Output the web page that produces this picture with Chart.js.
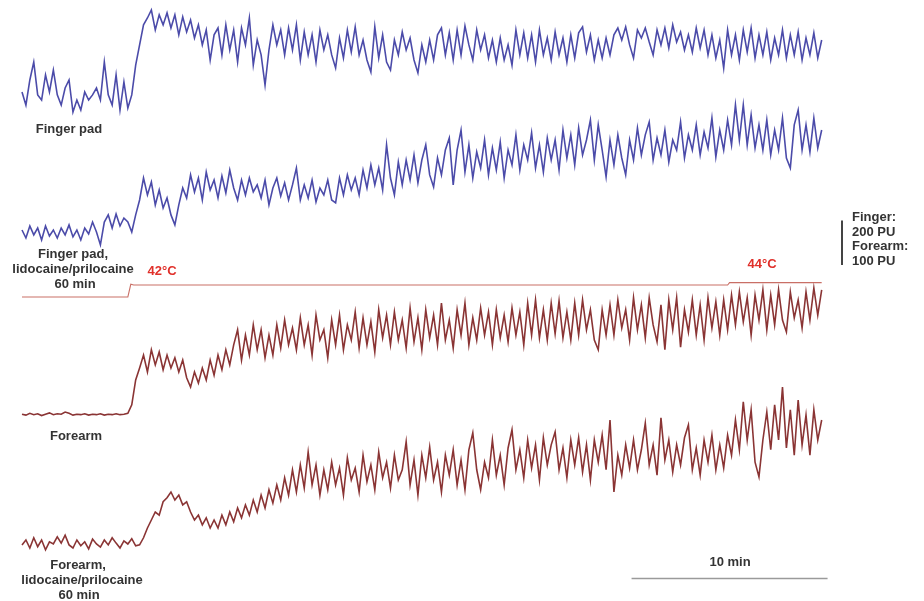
<!DOCTYPE html>
<html>
<head>
<meta charset="utf-8">
<script src="https://cdn.jsdelivr.net/npm/chart.js@4.4.1/dist/chart.umd.min.js"></script>
<style>
  html, body { margin: 0; padding: 0; background: #ffffff; }
  #wrap { position: relative; width: 924px; height: 601px; }
</style>
</head>
<body>
<div id="wrap"><canvas id="c"></canvas></div>
<script>
// ---- Data ----
// Sampling interval of the laser Doppler traces, minutes
const sampleStepMin = 0.2;

// Finger pad (PU)
const fingerPad = [
171,112,225,306,158,135,248,171,270,158,
112,189,225,81,135,90,171,135,158,189,
135,306,158,112,248,90,216,99,158,292,
383,473,504,540,450,518,473,527,459,518,
428,509,441,495,414,473,383,450,315,428,
459,338,473,360,450,306,459,383,504,292,
405,338,202,360,473,383,450,338,459,360,
473,315,441,338,428,306,450,360,428,338,
279,414,324,450,351,464,338,405,315,261,
464,324,428,306,270,405,338,441,360,414,
315,257,383,306,405,315,428,459,338,437,
315,450,338,468,383,315,450,360,428,324,
405,306,414,315,383,292,450,338,437,324,
428,306,450,338,414,315,441,338,414,306,
428,324,437,464,351,428,315,405,324,414,
338,428,459,405,464,383,324,450,414,459,
396,338,450,383,459,369,473,396,441,360,
428,351,459,369,450,338,428,324,405,279,
450,338,428,315,450,351,459,324,428,338,
441,315,414,338,450,324,428,338,441,315,
414,338,437,324,405
];

// Finger pad, lidocaine/prilocaine 60 min (PU)
const fingerPadLido = [
90,54,108,68,99,45,108,63,90,54,
99,68,113,59,90,45,99,72,126,81,
23,126,158,99,162,108,144,126,81,158,
225,324,248,306,203,270,189,234,158,113,
203,279,234,338,261,324,225,351,270,315,
234,333,257,360,279,225,315,248,324,261,
293,234,315,203,279,324,243,302,225,293,
369,225,293,234,315,216,279,248,315,225,
212,324,248,338,270,324,248,360,279,383,
293,369,270,473,324,248,396,293,405,315,
428,302,405,473,338,284,414,338,450,504,
293,450,540,351,473,324,441,369,495,338,
459,360,486,324,450,383,518,360,473,405,
527,369,473,351,504,405,495,360,540,414,
518,383,549,428,495,585,405,563,450,329,
495,383,518,414,338,495,405,549,428,518,
576,405,504,428,540,396,495,450,576,414,
518,450,563,428,531,459,594,419,540,450,
585,473,653,495,653,473,608,459,563,450,
585,428,540,450,594,414,369,563,630,450,
563,441,594,459,540
];

// Forearm (PU)
const forearm = [
13,11,15,12,14,10,13,16,12,14,
13,18,15,11,13,12,14,11,13,12,
14,11,13,12,14,12,13,15,34,90,
117,146,108,158,124,153,113,146,117,140,
108,135,95,74,108,83,117,90,135,101,
146,113,158,124,169,203,135,191,146,214,
158,203,140,191,146,214,162,225,169,207,
158,230,169,214,146,236,180,203,140,225,
169,236,158,214,180,243,162,230,169,221,
153,248,185,236,169,243,180,225,162,252,
176,230,158,248,185,236,169,263,180,225,
162,248,191,263,169,230,180,252,191,243,
169,248,185,236,176,252,191,243,169,263,
191,270,185,248,180,263,194,268,185,243,
180,263,191,270,203,248,180,158,248,191,
259,191,270,207,248,180,275,203,259,185,
275,214,176,259,158,270,203,275,164,248,
198,270,191,259,180,275,207,266,191,270,
203,281,214,288,221,275,191,281,225,293,
203,281,214,293,225,198,288,230,270,207,
288,225,297,236,293
];

// Forearm, lidocaine/prilocaine 60 min (PU)
const forearmLido = [
34,45,27,50,30,45,23,41,36,52,
38,56,34,27,45,32,41,25,47,36,
29,45,34,50,38,27,43,36,48,32,
34,50,72,90,108,101,131,140,153,135,
146,124,131,108,90,101,79,95,72,90,
72,101,79,108,86,117,95,124,101,135,
108,146,117,158,128,169,135,185,146,203,
153,214,162,243,169,214,146,203,158,220,
169,207,146,230,180,207,153,236,176,214,
158,243,185,220,162,236,180,203,266,169,
225,146,236,185,254,180,220,153,236,191,
248,169,225,158,248,286,203,158,220,185,
270,191,236,169,252,293,203,248,185,270,
207,259,180,275,214,259,288,203,252,185,
270,214,275,198,259,180,270,220,281,203,
315,153,236,191,259,207,270,203,248,308,
214,259,191,320,225,270,198,259,214,275,
304,203,252,191,270,220,281,203,259,207,
281,236,315,248,356,270,338,220,187,270,
333,248,349,270,389,252,338,236,360,259,
326,236,338,270,315
];

// Skin temperature protocol (°C)
const tempTimes  = [0, 5.4, 5.55, 5.7, 36.0, 36.1, 40.8];
const tempValues = [32, 32, 42.6, 42, 42, 44, 44];
const tempLabels = ["42°C", "44°C"];

// Scale bars
const timeBarMin = 10;
const fingerBarPU = 200;
const forearmBarPU = 100;

// ---- Build ----
const toPoints = (arr) => arr.map((v, i) => ({ x: +(i * sampleStepMin).toFixed(2), y: v }));
const tempPoints = tempTimes.map((t, i) => ({ x: t, y: tempValues[i] }));

const BLUE = 'rgba(55,55,160,0.9)';
const RED = 'rgba(125,30,30,0.9)';

const annotations = {
  id: 'annotations',
  afterDatasetsDraw(chart) {
    const { ctx, scales } = chart;
    const xs = scales.x;
    ctx.save();
    ctx.fillStyle = '#333333';
    ctx.font = 'bold 13px "Liberation Sans", Arial, sans-serif';
    ctx.textAlign = 'center';
    ctx.textBaseline = 'middle';
    const grey = [
      ['Finger pad', 69, 129],
      ['Finger pad,', 73, 254],
      ['lidocaine/prilocaine', 73, 269],
      ['60 min', 75, 284],
      ['Forearm', 76, 436],
      ['Forearm,', 78, 565],
      ['lidocaine/prilocaine', 82, 580],
      ['60 min', 79, 595],
      [timeBarMin + ' min', 730, 562]
    ];
    for (const [t, x, y] of grey) ctx.fillText(t, x, y);

    ctx.fillStyle = '#e0302a';
    ctx.fillText(tempLabels[0], 162, 271);
    ctx.fillText(tempLabels[1], 762, 264);

    const t0 = 31.1;
    const x0 = xs.getPixelForValue(t0);
    const x1 = xs.getPixelForValue(t0 + timeBarMin);
    ctx.strokeStyle = '#9a9a9a';
    ctx.lineWidth = 1.3;
    ctx.beginPath();
    ctx.moveTo(x0, 578.5);
    ctx.lineTo(x1, 578.5);
    ctx.stroke();

    const yf = scales.yF2;
    const len = Math.abs(yf.getPixelForValue(fingerBarPU) - yf.getPixelForValue(0));
    const yBottom = 265;
    ctx.strokeStyle = '#444444';
    ctx.lineWidth = 2;
    ctx.beginPath();
    ctx.moveTo(842, yBottom);
    ctx.lineTo(842, yBottom - len);
    ctx.stroke();

    ctx.fillStyle = '#333333';
    ctx.textAlign = 'left';
    ctx.fillText('Finger:', 852, 217);
    ctx.fillText(fingerBarPU + ' PU', 852, 232);
    ctx.fillText('Forearm:', 852, 246);
    ctx.fillText(forearmBarPU + ' PU', 852, 261);
    ctx.restore();
  }
};

const hidden = (min, max) => ({ type: 'linear', display: false, min, max });

new Chart(document.getElementById('c'), {
  type: 'line',
  data: {
    datasets: [
      { label: 'Finger pad', data: toPoints(fingerPad), yAxisID: 'yF1', borderColor: BLUE, borderWidth: 1.6 },
      { label: 'Finger pad, lidocaine/prilocaine 60 min', data: toPoints(fingerPadLido), yAxisID: 'yF2', borderColor: BLUE, borderWidth: 1.6 },
      { label: 'Temperature', data: tempPoints, yAxisID: 'yT', borderColor: 'rgba(195,95,85,0.9)', borderWidth: 1.1 },
      { label: 'Forearm', data: toPoints(forearm), yAxisID: 'yA1', borderColor: RED, borderWidth: 1.6 },
      { label: 'Forearm, lidocaine/prilocaine 60 min', data: toPoints(forearmLido), yAxisID: 'yA2', borderColor: RED, borderWidth: 1.6 }
    ]
  },
  options: {
    responsive: true,
    maintainAspectRatio: false,
    animation: false,
    layout: { padding: 0 },
    elements: { point: { radius: 0 }, line: { tension: 0, fill: false } },
    plugins: { legend: { display: false }, tooltip: { enabled: false } },
    scales: {
      x: { type: 'linear', display: false, min: -1.1224, max: 46.02 },
      yF1: hidden(-2119.5, 585),
      yF2: hidden(-1579.5, 1125),
      yT: hidden(-221.33, 279.5),
      yA1: hidden(-407.25, 945),
      yA2: hidden(-92.25, 1260)
    }
  },
  plugins: [annotations]
});
</script>
</body>
</html>
